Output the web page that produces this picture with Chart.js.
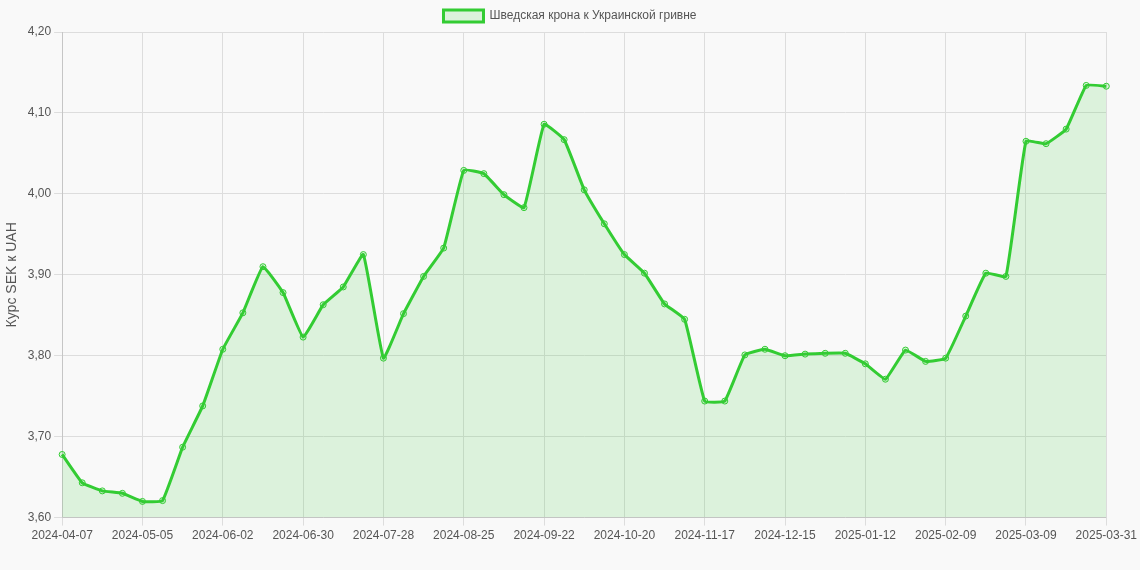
<!DOCTYPE html>
<html><head><meta charset="utf-8">
<script src="https://cdn.jsdelivr.net/npm/chart.js@4"></script>
<style>html,body{margin:0;background:#f9f9f9}#w{width:1140px;height:570px}</style>
</head><body><div id="w"><canvas id="c"></canvas></div>
<script>
const labels=["2024-04-07","2024-04-14","2024-04-21","2024-04-28","2024-05-05","2024-05-12","2024-05-19","2024-05-26","2024-06-02","2024-06-09","2024-06-16","2024-06-23","2024-06-30","2024-07-07","2024-07-14","2024-07-21","2024-07-28","2024-08-04","2024-08-11","2024-08-18","2024-08-25","2024-09-01","2024-09-08","2024-09-15","2024-09-22","2024-09-29","2024-10-06","2024-10-13","2024-10-20","2024-10-27","2024-11-03","2024-11-10","2024-11-17","2024-11-24","2024-12-01","2024-12-08","2024-12-15","2024-12-22","2024-12-29","2025-01-05","2025-01-12","2025-01-19","2025-01-26","2025-02-02","2025-02-09","2025-02-16","2025-02-23","2025-03-02","2025-03-09","2025-03-16","2025-03-23","2025-03-30","2025-03-31"];
const rates=[3.678,3.643,3.633,3.630,3.620,3.621,3.687,3.738,3.808,3.853,3.910,3.878,3.823,3.863,3.885,3.925,3.797,3.852,3.898,3.933,4.029,4.025,3.999,3.983,4.086,4.067,4.005,3.963,3.925,3.902,3.864,3.845,3.744,3.744,3.801,3.808,3.800,3.802,3.803,3.803,3.790,3.771,3.807,3.793,3.797,3.849,3.902,3.898,4.065,4.062,4.080,4.134,4.133];
const seriesName="Шведская крона к Украинской гривне";
const yTitle="Курс SEK к UAH";
new Chart(document.getElementById('c'),{type:'line',
data:{labels,datasets:[{label:seriesName,data:rates,borderColor:'#33cc33',backgroundColor:'rgba(51,204,51,0.15)',fill:true,borderWidth:3,tension:0.1,pointRadius:3,pointBorderWidth:1,pointBackgroundColor:'rgba(51,204,51,0.15)',pointBorderColor:'#33cc33'}]},
options:{responsive:true,maintainAspectRatio:false,animation:false,
layout:{padding:{bottom:24}},
plugins:{legend:{labels:{font:{family:'Liberation Sans, Arial',size:12},color:'#555'}}},
scales:{x:{grid:{color:c=>(c.index%4===0)?'#ddd':'rgba(0,0,0,0)'},ticks:{autoSkip:false,maxRotation:0,color:'#555',font:{size:12},callback:(v,i)=>i%4===0?labels[i]:''}},
y:{min:3.6,max:4.2,grid:{color:'#ddd'},ticks:{stepSize:0.1,color:'#555',callback:v=>v.toFixed(2).replace('.',',')},title:{display:true,text:yTitle,color:'#555',font:{size:14}}}}}});
</script></body></html>
